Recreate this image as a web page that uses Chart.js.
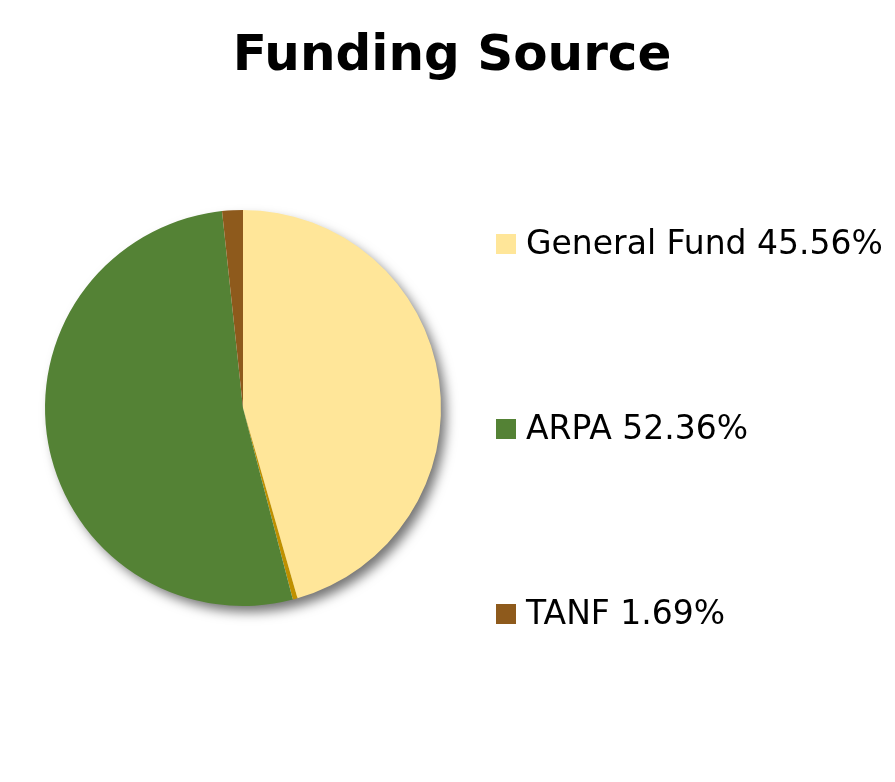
<!DOCTYPE html>
<html>
<head>
<meta charset="utf-8">
<script src="https://cdn.jsdelivr.net/npm/chart.js@4"></script>
<style>
  html, body { margin: 0; padding: 0; background: #fff; }
  #wrap { width: 895px; height: 782px; }
</style>
</head>
<body>
<div id="wrap"><canvas id="fundingChart"></canvas></div>
<script>
// categories in clockwise order from 12 o'clock; the unnamed sliver has no legend entry
var categories = ['General Fund', '', 'ARPA', 'TANF'];
var shares = [45.56, 0.39, 52.36, 1.69];
var sliceColors = ['#FFE699', '#BF9000', '#548235', '#8E5A1C'];
var chartTitle = 'Funding Source';

// draws a soft drop shadow under the whole pie before the slices go down
var pieShadow = {
     id: 'pieShadow',
     beforeDatasetsDraw: function(chart) {
          var arc = chart.getDatasetMeta(0).data[0];
          if (!arc) return;
          var ctx = chart.ctx;
          ctx.save();
          ctx.shadowColor = 'rgba(0,0,0,0.55)';
          ctx.shadowBlur = 12;
          ctx.shadowOffsetX = 6;
          ctx.shadowOffsetY = 7;
          ctx.fillStyle = '#ffffff';
          ctx.beginPath();
          ctx.arc(arc.x, arc.y, arc.outerRadius - 1, 0, Math.PI * 2);
          ctx.fill();
          ctx.restore();
     }
};

// title across the full width, legend on the right spread out like the original
var sideLegend = {
     id: 'sideLegend',
     afterDraw: function(chart) {
          var ctx = chart.ctx;
          ctx.save();
          ctx.fillStyle = '#000';
          ctx.font = 'bold 50px "DejaVu Sans", Tahoma, sans-serif';
          ctx.textAlign = 'center';
          ctx.textBaseline = 'alphabetic';
          ctx.fillText(chartTitle, 452, 70);

          var rows = [];
          categories.forEach(function(name, i) {
               if (name) rows.push(i);
          });
          ctx.font = '33px "DejaVu Sans", Tahoma, sans-serif';
          ctx.textAlign = 'left';
          ctx.textBaseline = 'middle';
          rows.forEach(function(i, k) {
               var cy = 244 + k * 185;
               ctx.fillStyle = sliceColors[i];
               ctx.fillRect(496, cy - 10, 20, 20);
               ctx.fillStyle = '#000';
               ctx.fillText(categories[i] + ' ' + shares[i].toFixed(2) + '%', 526, cy + 1);
          });
          ctx.restore();
     }
};

new Chart('fundingChart', {
     type: 'pie',
     data: {
          labels: categories,
          datasets: [{
               data: shares,
               backgroundColor: sliceColors,
               borderWidth: 0,
               hoverOffset: 0
          }]
     },
     options: {
          responsive: true,
          maintainAspectRatio: false,
          animation: false,
          layout: {
               padding: { top: 210, left: 45, right: 454, bottom: 176 }
          },
          plugins: {
               legend: { display: false },
               tooltip: { enabled: false },
               title: { display: false }
          }
     },
     plugins: [pieShadow, sideLegend]
});
</script>
</body>
</html>
